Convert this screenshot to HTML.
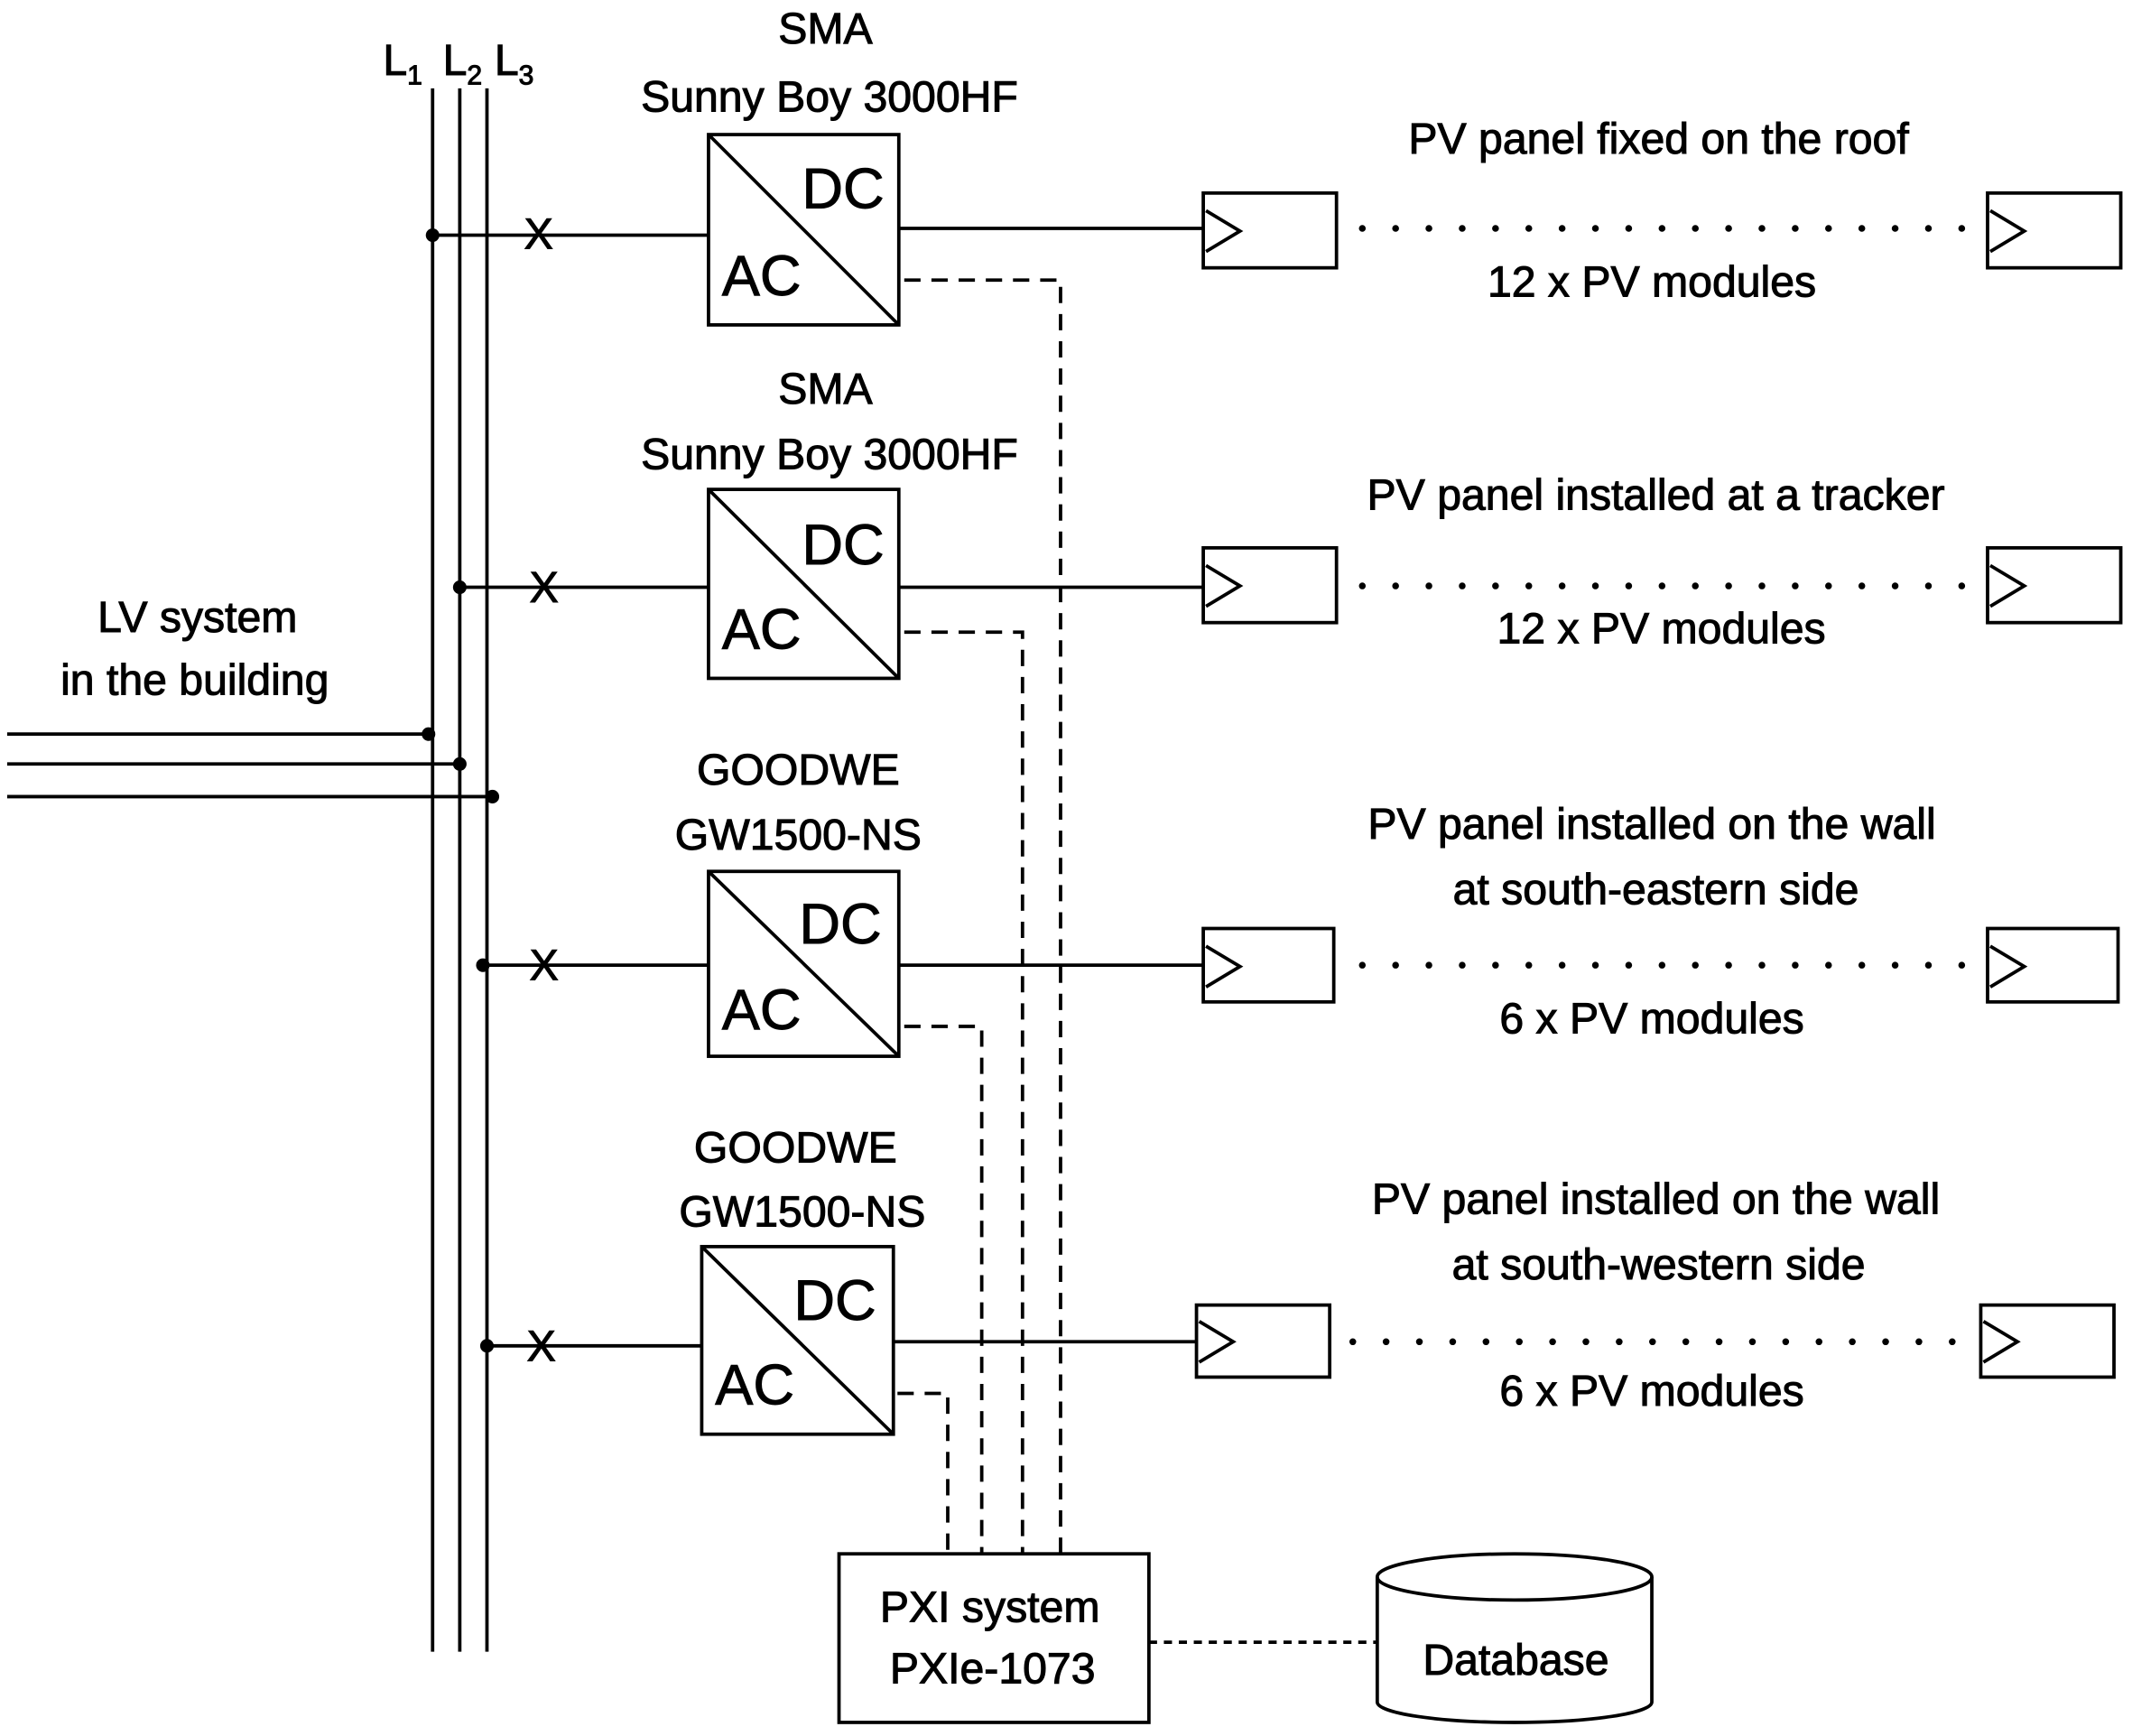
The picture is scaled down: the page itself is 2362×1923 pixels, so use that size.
<!DOCTYPE html>
<html><head><meta charset="utf-8"><style>html,body{margin:0;padding:0;background:#fff}svg{display:block}</style></head>
<body>
<svg width="2362" height="1923" viewBox="0 0 1568 1277" xmlns="http://www.w3.org/2000/svg" font-family="Liberation Sans, sans-serif" fill="#000">
<g stroke="#000" stroke-width="2.5" fill="none">
<line x1="318" y1="65" x2="318" y2="1215"/><line x1="338" y1="65" x2="338" y2="1215"/><line x1="358" y1="65" x2="358" y2="1215"/>
<line x1="5" y1="540" x2="318" y2="540"/><line x1="5" y1="562" x2="338" y2="562"/><line x1="5" y1="586" x2="362" y2="586"/>
<rect x="521" y="99" width="140" height="140"/><line x1="521" y1="99" x2="661" y2="239"/>
<line x1="318" y1="173" x2="521" y2="173"/><line x1="661" y1="168" x2="885" y2="168"/>
<rect x="885" y="142" width="98" height="55"/><rect x="1462" y="142" width="98" height="55"/>
<polyline points="887,155 912,170 887,185"/><polyline points="1464,155 1489,170 1464,185"/>
<rect x="521" y="360" width="140" height="139"/><line x1="521" y1="360" x2="661" y2="499"/>
<line x1="338" y1="432" x2="521" y2="432"/><line x1="661" y1="432" x2="885" y2="432"/>
<rect x="885" y="403" width="98" height="55"/><rect x="1462" y="403" width="98" height="55"/>
<polyline points="887,416 912,431 887,446"/><polyline points="1464,416 1489,431 1464,446"/>
<rect x="521" y="641" width="140" height="136"/><line x1="521" y1="641" x2="661" y2="777"/>
<line x1="355" y1="710" x2="521" y2="710"/><line x1="661" y1="710" x2="885" y2="710"/>
<rect x="885" y="683" width="96" height="54"/><rect x="1462" y="683" width="96" height="54"/>
<polyline points="887,696 912,711 887,726"/><polyline points="1464,696 1489,711 1464,726"/>
<rect x="516" y="917" width="141" height="138"/><line x1="516" y1="917" x2="657" y2="1055"/>
<line x1="358" y1="990" x2="516" y2="990"/><line x1="657" y1="987" x2="880" y2="987"/>
<rect x="880" y="960" width="98" height="53"/><rect x="1457" y="960" width="98" height="53"/>
<polyline points="882,972 907,987 882,1002"/><polyline points="1459,972 1484,987 1459,1002"/>
<rect x="617" y="1143" width="228" height="124"/>
<path d="M1013,1160 L1013,1252 A101,15 0 0 0 1215,1252 L1215,1160"/>
<ellipse cx="1114" cy="1160" rx="101" ry="17"/>
</g>
<g stroke="#000" stroke-width="2.5" fill="none" stroke-dasharray="12,8">
<polyline points="665,206 780,206 780,1143"/>
<polyline points="665,465 752,465 752,1143"/>
<polyline points="665,755 722,755 722,1143"/>
<polyline points="660,1025 697,1025 697,1143"/>
<line x1="845" y1="1208" x2="1013" y2="1208" stroke-dasharray="6,5"/>
</g>
<g stroke="#000" stroke-width="5" stroke-linecap="round" stroke-dasharray="0,24.5">
<line x1="1002" y1="168" x2="1445" y2="168"/>
<line x1="1002" y1="431" x2="1445" y2="431"/>
<line x1="1002" y1="710" x2="1445" y2="710"/>
<line x1="995" y1="987" x2="1440" y2="987"/>
</g>
<g>
<circle cx="318" cy="173" r="5"/><circle cx="338" cy="432" r="5"/><circle cx="355" cy="710" r="5"/><circle cx="358" cy="990" r="5"/>
<circle cx="315" cy="540" r="5"/><circle cx="338" cy="562" r="5"/><circle cx="362" cy="586" r="5"/>
</g>
<g font-size="32" text-anchor="middle" stroke="#000" stroke-width="0.7">
<text x="396" y="183">X</text><text x="400" y="443">X</text><text x="400" y="721">X</text><text x="398" y="1001">X</text>
<text x="296" y="55">L<tspan font-size="20" dy="7">1</tspan></text>
<text x="340" y="55">L<tspan font-size="20" dy="7">2</tspan></text>
<text x="378" y="55">L<tspan font-size="20" dy="7">3</tspan></text>
<text x="145" y="465">LV system</text><text x="143" y="511">in the building</text>
<text x="607" y="32">SMA</text><text x="610" y="82">Sunny Boy 3000HF</text>
<text x="607" y="297">SMA</text><text x="610" y="345">Sunny Boy 3000HF</text>
<text x="587" y="577">GOODWE</text><text x="587" y="625">GW1500-NS</text>
<text x="585" y="855">GOODWE</text><text x="590" y="902">GW1500-NS</text>
<text x="1220" y="113">PV panel fixed on the roof</text><text x="1215" y="218">12 x PV modules</text>
<text x="1218" y="375">PV panel installed at a tracker</text><text x="1222" y="473">12 x PV modules</text>
<text x="1215" y="617">PV panel installed on the wall</text><text x="1218" y="665">at south-eastern side</text><text x="1215" y="760">6 x PV modules</text>
<text x="1218" y="893">PV panel installed on the wall</text><text x="1220" y="941">at south-western side</text><text x="1215" y="1034">6 x PV modules</text>
<text x="728" y="1193">PXI system</text><text x="730" y="1238">PXIe-1073</text>
<text x="1115" y="1232">Database</text>
</g>
<g font-size="42" text-anchor="middle" stroke="#000" stroke-width="0.6">
<text x="620" y="153">DC</text><text x="560" y="217">AC</text>
<text x="620" y="415">DC</text><text x="560" y="477">AC</text>
<text x="618" y="694">DC</text><text x="560" y="757">AC</text>
<text x="614" y="971">DC</text><text x="555" y="1033">AC</text>
</g>
</svg>
</body></html>
